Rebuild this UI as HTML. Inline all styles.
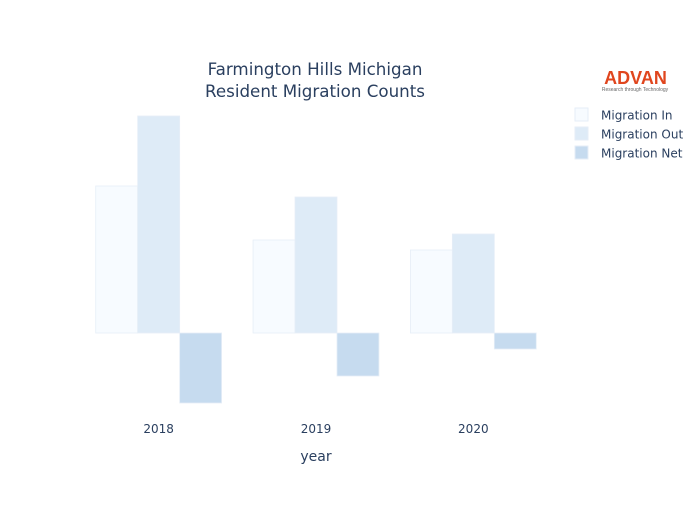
<!DOCTYPE html>
<html><head><meta charset="utf-8"><style>
body{margin:0;background:#fff;}
svg text{font-family:"DejaVu Sans","Liberation Sans",sans-serif;}
</style></head><body>
<svg width="700" height="500" xmlns="http://www.w3.org/2000/svg">
<rect width="700" height="500" fill="#fff"/>
<g id="plot"></g>
<text x="315" y="75" text-anchor="middle" font-size="16.7" fill="#2a3f5f">Farmington Hills Michigan</text>
<text x="315" y="97" text-anchor="middle" font-size="16.7" fill="#2a3f5f">Resident Migration Counts</text>
<text x="316" y="461" text-anchor="middle" font-size="14" fill="#2a3f5f">year</text>
<g>
<text x="635.5" y="84" text-anchor="middle" font-size="18" font-weight="bold" fill="#e0461e" style="font-family:'Liberation Sans',sans-serif">ADVAN</text>
<text x="635" y="91" text-anchor="middle" font-size="5" fill="#666" style="font-family:'Liberation Sans',sans-serif">Research through Technology</text>
</g>
<g id="legend"></g>
</svg>
<script>
const categories=["2018","2019","2020"];
const seriesNames=["Migration In","Migration Out","Migration Net"];
const migrationIn=[1470,930,830];
const migrationOut=[2170,1360,990];
const migrationNet=[-700,-430,-160];
const yMin=-870, yMax=2330;
const colors=["#f7fbff","#deebf7","#c6dbef"];
const NS="http://www.w3.org/2000/svg";
const plotLeft=80, plotRight=552, plotTop=100, plotBottom=420;
const band=(plotRight-plotLeft)/categories.length;
function xCenter(i){return plotLeft+band*(i+0.5);}
function y(v){return plotTop+(yMax-v)/(yMax-yMin)*(plotBottom-plotTop);}
const plot=document.getElementById('plot');
const series=[migrationIn,migrationOut,migrationNet];
const bw=band*0.8/3;
series.forEach((s,si)=>{
  s.forEach((v,i)=>{
    const r=document.createElementNS(NS,'rect');
    const x=xCenter(i)-band*0.4+si*bw;
    r.setAttribute('x',x);r.setAttribute('width',bw);
    r.setAttribute('y',Math.min(y(v),y(0)));r.setAttribute('height',Math.abs(y(v)-y(0)));
    r.setAttribute('fill',colors[si]);r.setAttribute('stroke','#e6eef7');r.setAttribute('stroke-width','0.8');
    
    
    plot.appendChild(r);
  });
});
categories.forEach((c,i)=>{
  const t=document.createElementNS(NS,'text');
  t.setAttribute('x',xCenter(i));t.setAttribute('y',433);t.setAttribute('text-anchor','middle');
  t.setAttribute('font-size','12');t.setAttribute('fill','#2a3f5f');t.textContent=c;
  
  
  plot.appendChild(t);
});
const lg=document.getElementById('legend');
seriesNames.forEach((n,i)=>{
  const yy=115+i*19;
  const r=document.createElementNS(NS,'rect');
  r.setAttribute('x',575);r.setAttribute('y',yy-7);r.setAttribute('width',13);r.setAttribute('height',13);
  r.setAttribute('fill',colors[i]);r.setAttribute('stroke','#e6eef7');
  
  
  lg.appendChild(r);
  const t=document.createElementNS(NS,'text');
  t.setAttribute('x',601);t.setAttribute('y',yy+4.5);t.setAttribute('font-size','12');t.setAttribute('fill','#2a3f5f');
  t.textContent=n;
  
  
  lg.appendChild(t);
});
</script>
</body></html>
